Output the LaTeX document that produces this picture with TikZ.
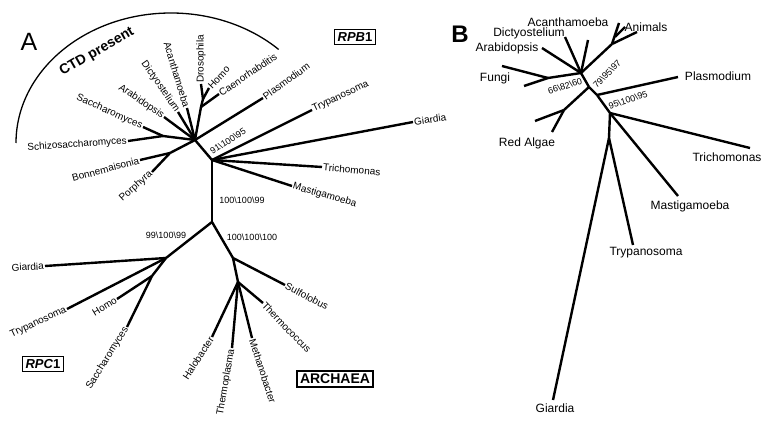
\documentclass[tikz,border=0pt]{standalone}
\usepackage{fontspec}
\setmainfont{Liberation Sans}
\begin{document}
\begin{tikzpicture}[x=1pt,y=-1pt,
  br/.style={line width=2.4pt},
  lab/.style={font=\fontsize{10}{12}\selectfont, inner sep=1pt},
  labb/.style={font=\fontsize{12}{14}\selectfont, inner sep=1pt},
  boot/.style={font=\fontsize{9}{10}\selectfont, inner sep=0pt},
  gene/.style={draw, line width=1.3pt, inner sep=3pt, font=\fontsize{13}{15}\selectfont\bfseries}]
\useasboundingbox (0,0) rectangle (773,422);

\node[font=\fontsize{25}{28}\selectfont] (pa) at (29,42) {A};
\node[font=\fontsize{24}{28}\selectfont\bfseries] (pb) at (460,34) {B};

\draw[line width=1.3pt] (16,143) arc[start angle=180, end angle=314, x radius=155, y radius=130];
\node[font=\fontsize{14}{16}\selectfont\bfseries, rotate=30] (ctd) at (97,52) {CTD present};

\node[gene] (rpb) at (355,37) {\textit{RPB}1};
\node[gene] (rpc) at (43,364) {\textit{RPC}1};
\node[gene, font=\fontsize{14}{16}\selectfont\bfseries] (arch) at (335,379) {ARCHAEA};

\coordinate (h1) at (195,140);
\coordinate (h2) at (212,160);
\coordinate (h3) at (212,222);
\coordinate (cst) at (201,107);
\coordinate (cdh) at (203,99);
\coordinate (fng) at (163,136);
\coordinate (red) at (170,153);
\coordinate (p1) at (166,258);
\coordinate (p2) at (152,276);
\coordinate (a1) at (233,258);
\coordinate (a2) at (238,282);

\node[lab, anchor=west, rotate=90] (pb-dros) at (201,84) {Drosophila};
\node[lab, anchor=west, rotate=47] (pb-homo) at (209,88) {Homo};
\node[lab, anchor=west, rotate=34] (pb-caen) at (219,94) {Caenorhabditis};
\node[lab, anchor=west, rotate=36] (pb-plas) at (263,98) {Plasmodium};
\node[lab, anchor=east, rotate=-73] (pb-acan) at (187,108) {Acanthamoeba};
\node[lab, anchor=east, rotate=-55] (pb-dict) at (178,112) {Dictyostelium};
\node[lab, anchor=east, rotate=-34] (pb-arab) at (164,117) {Arabidopsis};
\node[lab, anchor=east, rotate=-24] (pb-sacc) at (143,127) {Saccharomyces};
\node[lab, anchor=east, rotate=4] (pb-schi) at (128,141) {Schizosaccharomyces};
\node[lab, anchor=east, rotate=15] (pb-bonn) at (140,160) {Bonnemaisonia};
\node[lab, anchor=east, rotate=42] (pb-porp) at (152,172) {Porphyra};
\node[lab, anchor=west, rotate=25] (pb-tryp) at (312,110) {Trypanosoma};
\node[lab, anchor=west, rotate=8] (pb-giar) at (413,122) {Giardia};
\node[lab, anchor=west, rotate=-5] (pb-tric) at (322,167) {Trichomonas};
\node[lab, anchor=west, rotate=-16] (pb-mast) at (292,186) {Mastigamoeba};

\node[lab, anchor=east, rotate=3] (pc-giar) at (45,266) {Giardia};
\node[lab, anchor=east, rotate=25] (pc-tryp) at (67,309) {Trypanosoma};
\node[lab, anchor=east, rotate=31] (pc-homo) at (117,299) {Homo};
\node[lab, anchor=east, rotate=58] (pc-sacc) at (127,327) {Saccharomyces};

\node[lab, anchor=west, rotate=-27] (ar-sulf) at (285,285) {Sulfolobus};
\node[lab, anchor=west, rotate=-46] (ar-ther) at (263,303) {Thermococcus};
\node[lab, anchor=west, rotate=-72] (ar-meth) at (252,338) {Methanobacter};
\node[lab, anchor=east, rotate=80] (ar-tpla) at (232,348) {Thermoplasma};
\node[lab, anchor=east, rotate=57] (ar-halo) at (212,337) {Halobacter};

\node[boot, rotate=32] (bs-a1) at (228,141) {91\textbackslash 100\textbackslash 95};
\node[boot] (bs-a2) at (242,200) {100\textbackslash 100\textbackslash 99};
\node[boot] (bs-a3) at (166,235) {99\textbackslash 100\textbackslash 99};
\node[boot] (bs-a4) at (252,237) {100\textbackslash 100\textbackslash 100};

\path[br]
(h1) edge (h2)  (h2) edge (h3)  (h3) edge (p1)  (h3) edge (a1)
(h1) edge (cst)  (cst) edge (cdh)  (cst) edge (pb-caen.west)
(cdh) edge (pb-dros.west)  (cdh) edge (pb-homo.west)
(h1) edge (pb-plas.west)  (h1) edge (pb-acan.east)  (h1) edge (pb-dict.east)  (h1) edge (pb-arab.east)
(h1) edge (fng)  (fng) edge (pb-sacc.east)  (fng) edge (pb-schi.east)
(h1) edge (red)  (red) edge (pb-bonn.east)  (red) edge (pb-porp.east)
(h2) edge (pb-tryp.west)  (h2) edge (pb-giar.west)  (h2) edge (pb-tric.west)  (h2) edge (pb-mast.west)
(p1) edge (pc-giar.east)  (p1) edge (pc-tryp.east)  (p1) edge (p2)
(p2) edge (pc-homo.east)  (p2) edge (pc-sacc.east)
(a1) edge (ar-sulf.west)  (a1) edge (a2)
(a2) edge (ar-ther.west)  (a2) edge (ar-meth.west)  (a2) edge (ar-tpla.east)  (a2) edge (ar-halo.east)
;

\coordinate (b1) at (581,73);
\coordinate (b2) at (589,87);
\coordinate (b3) at (597,95);
\coordinate (b4) at (610,113);
\coordinate (b5) at (609,138);
\coordinate (an) at (612,44);
\coordinate (an2) at (615,37);
\coordinate (fb) at (548,78);
\coordinate (rb) at (564,110);
\coordinate (l-dict) at (565,37);
\coordinate (l-acan) at (588,40);
\coordinate (l-arab) at (542,48);
\coordinate (l-fun1) at (502,66);
\coordinate (l-fun2) at (524,86);
\coordinate (l-red1) at (535,121);
\coordinate (l-red2) at (552,132);
\coordinate (l-ani1) at (619,23);
\coordinate (l-ani2) at (625,27);
\coordinate (l-ani3) at (637,32);
\coordinate (l-plas) at (678,77);
\coordinate (l-tric) at (750,148);
\coordinate (l-mast) at (678,196);
\coordinate (l-tryp) at (633,245);
\coordinate (l-giar) at (553,400);

\node[labb] (b-acan) at (568,22) {Acanthamoeba};
\node[labb] (b-dict) at (529,33) {Dictyostelium};
\node[labb] (b-arab) at (507,48) {Arabidopsis};
\node[labb] (b-fung) at (495,78) {Fungi};
\node[labb] (b-red) at (527,143) {Red Algae};
\node[labb] (b-anim) at (646,27) {Animals};
\node[labb] (b-plas) at (718,76) {Plasmodium};
\node[labb] (b-tric) at (727,157) {Trichomonas};
\node[labb] (b-mast) at (690,206) {Mastigamoeba};
\node[labb] (b-tryp) at (646,253) {Trypanosoma};
\node[labb] (b-giar) at (555,408) {Giardia};

\node[boot, rotate=17] (bs-b1) at (565,86) {66\textbackslash 82\textbackslash 60};
\node[boot, rotate=45] (bs-b2) at (607,74) {79\textbackslash 95\textbackslash 97};
\node[boot, rotate=18] (bs-b3) at (628,100) {95\textbackslash 100\textbackslash 95};

\path[br]
(b1) edge (b2)  (b2) edge (b3)  (b3) edge (b4)  (b4) edge (b5)
(b1) edge (l-dict)  (b1) edge (l-acan)  (b1) edge (l-arab)
(b1) edge (fb)  (fb) edge (l-fun1)  (fb) edge (l-fun2)
(b2) edge (rb)  (rb) edge (l-red1)  (rb) edge (l-red2)
(b1) edge (an)  (an) edge (l-ani1)  (an) edge (l-ani3)  (an2) edge (l-ani2)
(b3) edge (l-plas)
(b4) edge (l-tric)  (b4) edge (l-mast)
(b5) edge (l-tryp)  (b5) edge (l-giar)
;
\end{tikzpicture}
\end{document}
